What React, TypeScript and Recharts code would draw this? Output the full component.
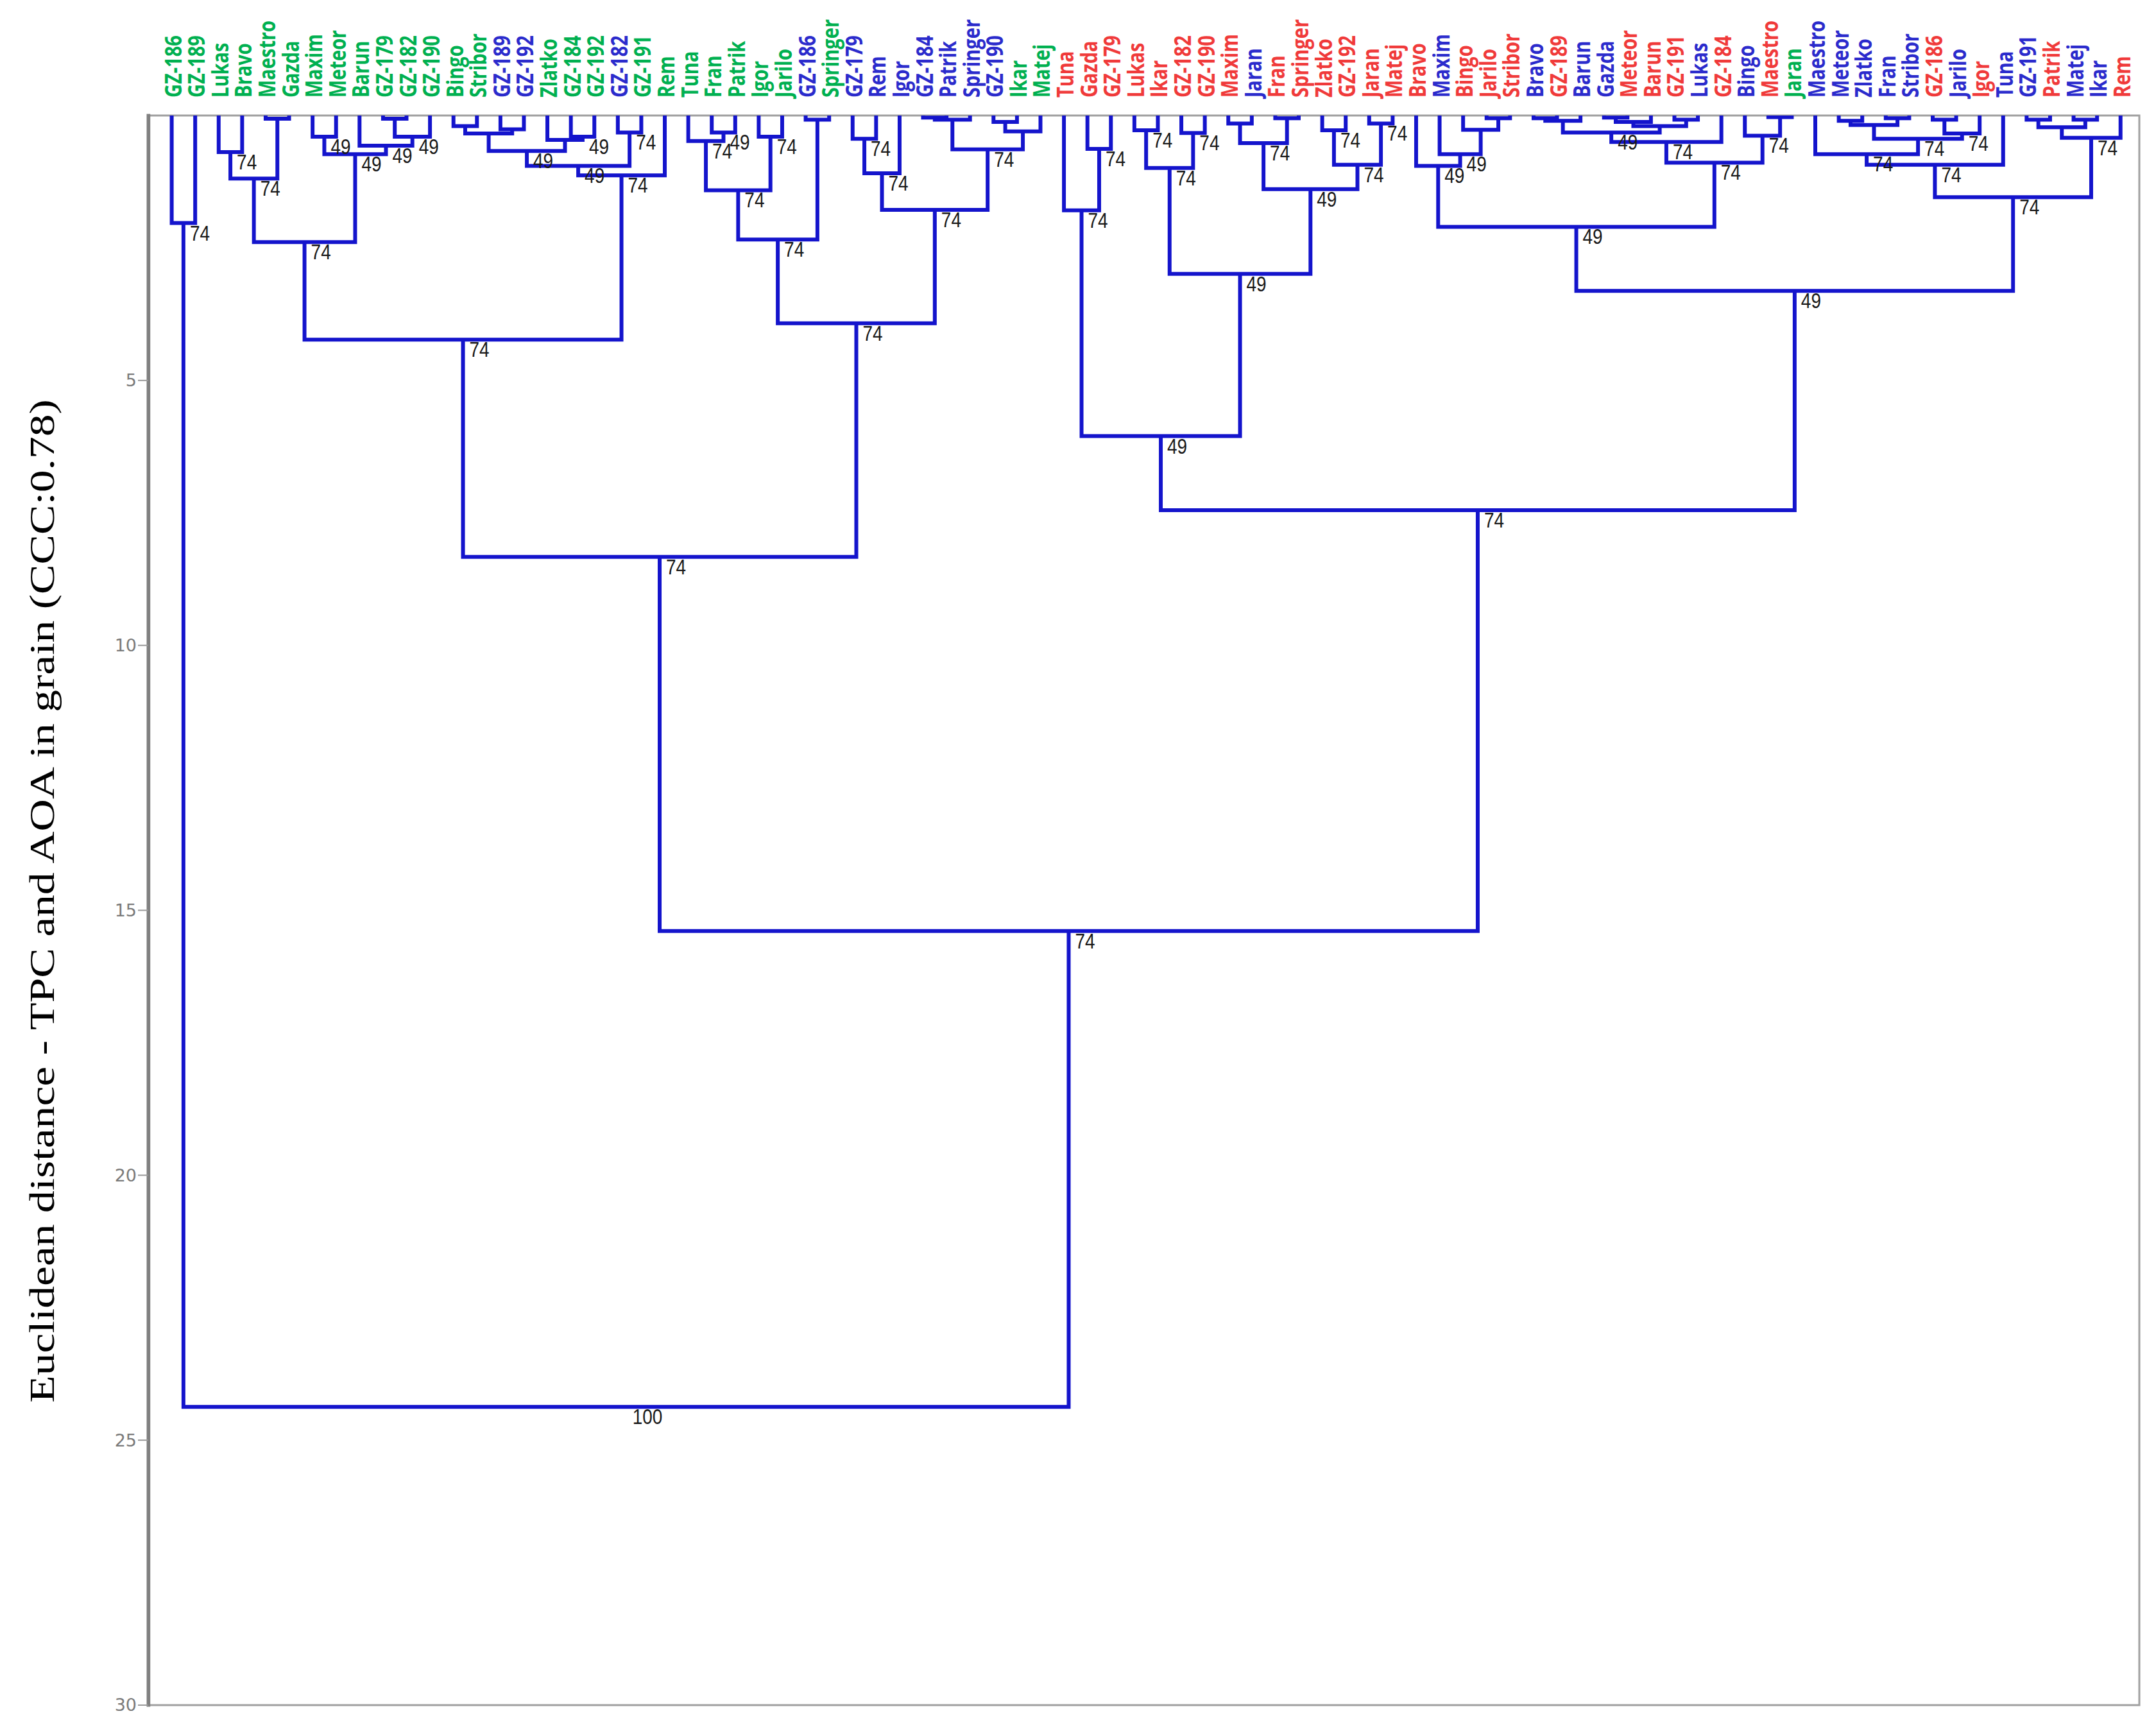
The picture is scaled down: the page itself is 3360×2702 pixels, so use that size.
import React from "react";
import { ComposedChart, Line, XAxis, YAxis, ReferenceArea, Label } from "recharts";

// leaf labels, left to right
const leafNames = [
  "GZ-186", "GZ-189", "Lukas", "Bravo", "Maestro", "Gazda", "Maxim", "Meteor", "Barun", "GZ-179",
  "GZ-182", "GZ-190", "Bingo", "Stribor", "GZ-189", "GZ-192", "Zlatko", "GZ-184", "GZ-192", "GZ-182",
  "GZ-191", "Rem", "Tuna", "Fran", "Patrik", "Igor", "Jarilo", "GZ-186", "Springer", "GZ-179",
  "Rem", "Igor", "GZ-184", "Patrik", "Springer", "GZ-190", "Ikar", "Matej", "Tuna", "Gazda",
  "GZ-179", "Lukas", "Ikar", "GZ-182", "GZ-190", "Maxim", "Jaran", "Fran", "Springer", "Zlatko",
  "GZ-192", "Jaran", "Matej", "Bravo", "Maxim", "Bingo", "Jarilo", "Stribor", "Bravo", "GZ-189",
  "Barun", "Gazda", "Meteor", "Barun", "GZ-191", "Lukas", "GZ-184", "Bingo", "Maestro", "Jaran",
  "Maestro", "Meteor", "Zlatko", "Fran", "Stribor", "GZ-186", "Jarilo", "Igor", "Tuna", "GZ-191",
  "Patrik", "Matej", "Ikar", "Rem",
];
// label colour group of each leaf (g / b / r)
const leafGroups = (
  "gggggggggggggg" + "bb" + "ggg" + "b" + "ggggggg" + "b" + "g" + "bbbbbbb" + "gg" +
  "rrrrrrrr" + "b" + "rrrrrrr" + "b" + "rrr" + "b" + "r" + "bb" + "rrr" + "b" + "r" + "b" + "r" +
  "g" + "bbbbb" + "r" + "b" + "r" + "bb" + "r" + "bb" + "r"
).split("");
const groupColors: Record<string, string> = { g: "#00b050", b: "#2b2bcc", r: "#f03a3a" };

const yTicks = [5, 10, 15, 20, 25, 30];

// merges: [left, right, distance, support]; numbers are leaf positions (1-based)
type Node = number | [Node, Node, number, number];

// GZ-186 / GZ-189
const pairStart: Node = [1, 2, 2.03, 74];

// leaves 3-12
const clusterA1: Node = [
  [[3, 4, 0.69, 74], [5, 6, 0.06, 0], 1.19, 74],
  [[7, 8, 0.4, 49], [9, [[10, 11, 0.06, 0], 12, 0.4, 49], 0.57, 49], 0.73, 49],
  2.39, 74,
];
// leaves 13-22
const clusterA2: Node = [
  [
    [[[13, 14, 0.2, 0], [15, 16, 0.26, 0], 0.34, 0], [17, [18, 19, 0.4, 49], 0.46, 0], 0.67, 49],
    [20, 21, 0.32, 74],
    0.95, 49,
  ],
  22, 1.13, 74,
];
// leaves 23-38
const clusterB: Node = [
  [
    [[23, [24, 25, 0.32, 49], 0.48, 74], [26, 27, 0.4, 74], 1.41, 74],
    [28, 29, 0.08, 0],
    2.34, 74,
  ],
  [
    [[30, 31, 0.44, 74], 32, 1.09, 74],
    [[[33, 34, 0.04, 0], 35, 0.08, 0], [[36, 37, 0.12, 0], 38, 0.3, 0], 0.64, 74],
    1.78, 74,
  ],
  3.92, 74,
];
// leaves 39-53
const clusterC: Node = [
  [39, [40, 41, 0.63, 74], 1.79, 74],
  [
    [[42, 43, 0.28, 74], [44, 45, 0.33, 74], 0.99, 74],
    [
      [[46, 47, 0.15, 0], [48, 49, 0.05, 0], 0.52, 74],
      [[50, 51, 0.28, 74], [52, 53, 0.15, 74], 0.93, 74],
      1.39, 49,
    ],
    2.99, 49,
  ],
  6.05, 49,
];
// leaves 54-70
const clusterD: Node = [
  [54, [55, [56, [57, 58, 0.05, 0], 0.27, 0], 0.73, 49], 0.95, 49],
  [
    [
      [[[59, 60, 0.05, 0], 61, 0.1, 0], [[[62, 63, 0.04, 0], 64, 0.12, 0], [65, 66, 0.08, 0], 0.2, 0], 0.32, 49],
      67, 0.5, 74,
    ],
    [68, [69, 70, 0.03, 0], 0.38, 74],
    0.89, 74,
  ],
  2.1, 49,
];
// leaves 71-84
const clusterE: Node = [
  [
    [71, [[[72, 73, 0.1, 0], [74, 75, 0.05, 0], 0.18, 0], [[76, 77, 0.08, 0], 78, 0.34, 74], 0.44, 74], 0.73, 74],
    79, 0.93, 74,
  ],
  [[[80, 81, 0.08, 0], [82, 83, 0.08, 0], 0.22, 0], 84, 0.42, 74],
  1.54, 74,
];

const tree: Node = [
  pairStart,
  [
    [[clusterA1, clusterA2, 4.23, 74], clusterB, 8.33, 74],
    [clusterC, [clusterD, clusterE, 3.31, 49], 7.45, 74],
    15.39, 74,
  ],
  24.37, 100,
];

const treeLine: { x: number; y: number | null }[] = [];
const supportMarks: { x: number; y: number; support: number }[] = [];

const place = (n: Node): { x: number; h: number } => {
  if (typeof n === "number") return { x: n, h: 0 };
  const [a, b, h, s] = n;
  const l = place(a);
  const r = place(b);
  treeLine.push(
    { x: l.x, y: l.h },
    { x: l.x, y: h },
    { x: r.x, y: h },
    { x: r.x, y: r.h },
    { x: r.x, y: null }
  );
  const x = (l.x + r.x) / 2;
  if (s) supportMarks.push({ x, y: h, support: s });
  return { x, h };
};
place(tree);

const leafTicks = leafNames.map((_, i) => i + 1);

const LeafTick = (props: any) => {
  const { x, y, payload } = props;
  const i = payload.value - 1;
  return (
    <text
      transform={`translate(${x + 15},${y}) rotate(-90) scale(1,1.25)`}
      textAnchor="start"
      fill={groupColors[leafGroups[i]]}
      fontFamily="Open Sans"
      fontWeight={700}
      fontSize={29}
    >
      {leafNames[i]}
    </text>
  );
};

const YTick = (props: any) => {
  const { x, y, payload } = props;
  return (
    <text x={x} y={y} dy="0.35em" textAnchor="end" fill="#7a7a7a" fontFamily="DejaVu Sans" fontSize={27}>
      {payload.value}
    </text>
  );
};

const renderSupport = (props: any) => {
  const { cx, cy, payload, index } = props;
  return (
    <text
      key={index}
      transform={`translate(${cx + 10},${cy + 27}) scale(1,1.2)`}
      fill="#1a1a1a"
      fontFamily="Liberation Sans"
      fontSize={28}
    >
      {payload.support}
    </text>
  );
};

const renderTitle = () => (
  <text
    transform="translate(84,1404) rotate(-90) scale(1.29,1)"
    textAnchor="middle"
    fill="#000"
    fontFamily="Liberation Serif"
    fontSize={54}
  >
    Euclidean distance - TPC and AOA in grain (CCC:0.78)
  </text>
);

const Dendrogram = () => {
  return (
    <div style={{ position: "absolute", left: 0, top: 0, width: 3360, height: 2702, background: "#fff" }}>
      <ComposedChart
        width={3360}
        height={2702}
        data={treeLine}
        margin={{ top: 10, right: 26, bottom: 45, left: 31 }}
      >
        <XAxis
          xAxisId={0}
          orientation="top"
          type="number"
          dataKey="x"
          domain={[0, 84.8]}
          ticks={leafTicks}
          interval={0}
          height={170}
          tickSize={0}
          tickMargin={28}
          tickLine={false}
          axisLine={false}
          tick={LeafTick}
          allowDataOverflow
        />
        <YAxis
          type="number"
          domain={[0, 30]}
          reversed
          ticks={yTicks}
          interval={0}
          width={200}
          tickSize={16}
          axisLine={false}
          tickLine={{ stroke: "#9a9a9a", strokeWidth: 2 }}
          tick={YTick}
          allowDataOverflow
        >
          <Label content={renderTitle} />
        </YAxis>
        <ReferenceArea x1={0} x2={84.8} y1={0} y2={30} fill="none" stroke="#a0a0a0" strokeWidth={3} ifOverflow="visible" />
        <ReferenceArea x1={0} x2={0.02} y1={0} y2={30} fill="#808080" stroke="#808080" strokeWidth={5} ifOverflow="visible" />
        <Line
          dataKey="y"
          stroke="#1414cc"
          strokeWidth={6}
          strokeLinecap="square"
          strokeLinejoin="miter"
          dot={false}
          activeDot={false}
          connectNulls={false}
          isAnimationActive={false}
        />
        <Line
          data={supportMarks}
          dataKey="y"
          stroke="none"
          strokeWidth={0}
          dot={renderSupport}
          activeDot={false}
          isAnimationActive={false}
        />
      </ComposedChart>
    </div>
  );
};

export default Dendrogram;
